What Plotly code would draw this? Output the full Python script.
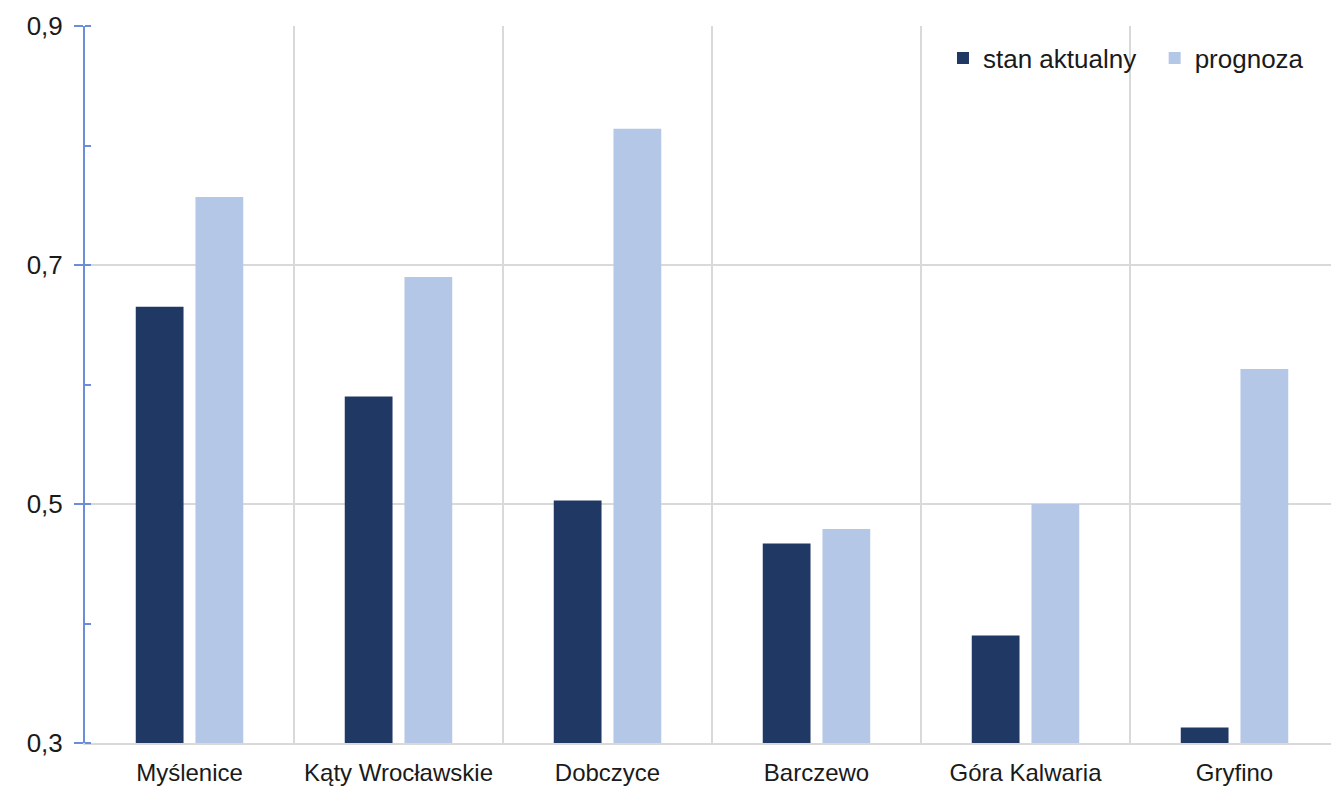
import plotly.graph_objects as go

categories = ["Myślenice", "Kąty Wrocławskie", "Dobczyce", "Barczewo", "Góra Kalwaria", "Gryfino"]
stan_aktualny = [0.665, 0.590, 0.503, 0.467, 0.390, 0.313]
prognoza = [0.757, 0.690, 0.814, 0.479, 0.500, 0.613]
series_names = ["stan aktualny", "prognoza"]
y_ticks = [0.3, 0.5, 0.7, 0.9]
y_tick_labels = ["0,3", "0,5", "0,7", "0,9"]

FONT = "Liberation Sans, Arial, sans-serif"
TXT = "#1a1a1a"
AX = "#6a8fd8"

fig = go.Figure()
fig.add_trace(go.Bar(x=categories, y=stan_aktualny, name=series_names[0], legend="legend",
                     marker=dict(color="#203864", line=dict(width=0))))
fig.add_trace(go.Bar(x=categories, y=prognoza, name=series_names[1], legend="legend2",
                     marker=dict(color="#b4c7e7", line=dict(width=0))))

leg_common = dict(orientation="h", xanchor="left", yanchor="top", y=0.988,
                  bgcolor="rgba(0,0,0,0)", font=dict(family=FONT, size=26, color=TXT),
                  itemwidth=30)

fig.update_layout(
    width=1331, height=779,
    margin=dict(l=77, r=0, t=18, b=44),
    paper_bgcolor="white", plot_bgcolor="white",
    barmode="group", bargap=0.4286, bargroupgap=0.2,
    separators=",.",
    font=dict(family=FONT, size=26, color=TXT),
    showlegend=True,
    legend=dict(x=0.6842, **leg_common),
    legend2=dict(x=0.853, **leg_common),
    xaxis=dict(
        type="category", range=[-0.5, 5.5], tickson="boundaries",
        showgrid=True, gridcolor="#d9d9d9", gridwidth=1.5,
        showline=True, linecolor="#d9d9d9", linewidth=2,
        ticks="", ticklabelstandoff=7, tickangle=0, automargin=False,
        tickfont=dict(family=FONT, size=24, color=TXT),
        zeroline=False,
    ),
    yaxis=dict(
        range=[0.3, 0.9], tickvals=y_ticks, ticktext=y_tick_labels,
        showgrid=True, gridcolor="#d9d9d9", gridwidth=1.5,
        showline=True, linecolor=AX, linewidth=2,
        ticks="outside", ticklen=9, tickwidth=2, tickcolor=AX,
        ticklabelstandoff=6, automargin=False,
        minor=dict(dtick=0.1, tick0=0.3, ticks="inside", ticklen=6, tickwidth=2,
                   tickcolor=AX, showgrid=False),
        tickfont=dict(family=FONT, size=26, color=TXT),
        zeroline=False,
    ),
    yaxis2=dict(
        overlaying="y", matches="y", range=[0.3, 0.9], side="left",
        tickvals=y_ticks, showticklabels=False, showgrid=False,
        ticks="inside", ticklen=9, tickwidth=2, tickcolor=AX,
        showline=False, zeroline=False, automargin=False,
    ),
)

fig.write_html("out.html")
